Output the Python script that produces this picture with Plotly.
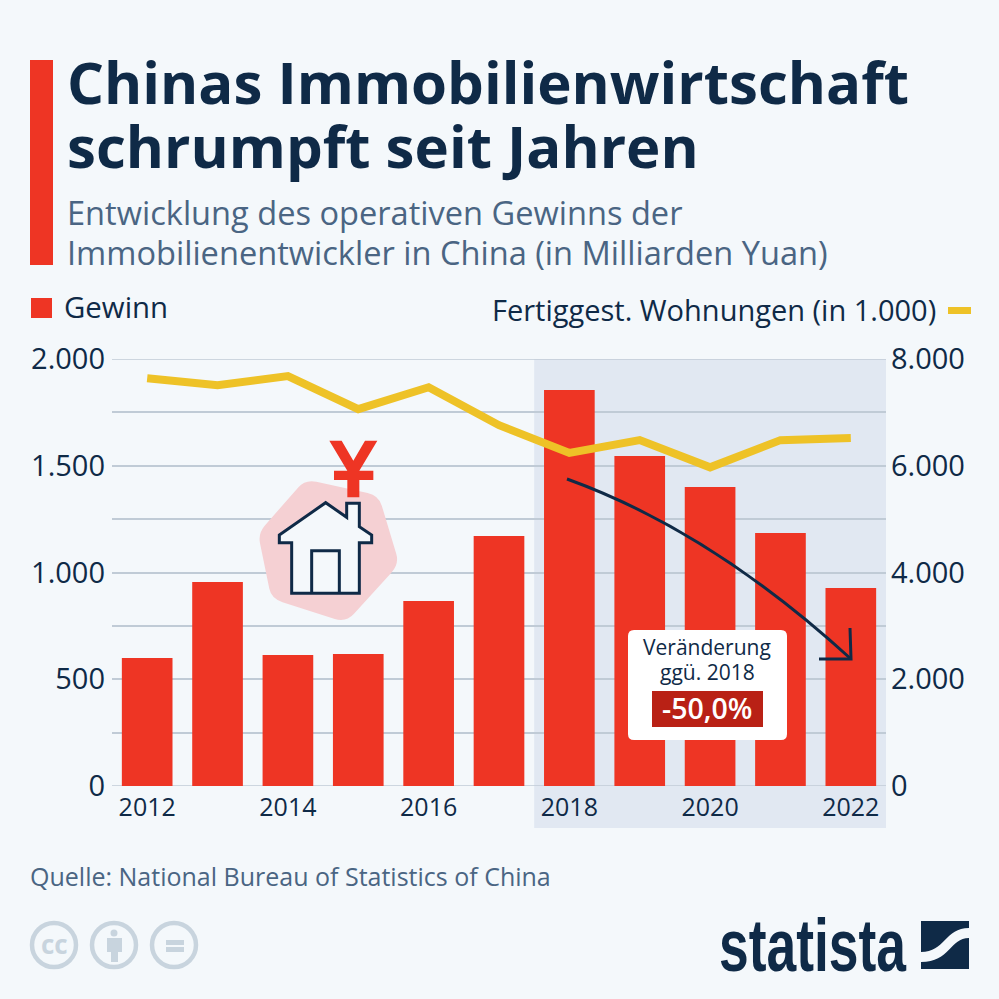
import plotly.graph_objects as go

years = [2012, 2013, 2014, 2015, 2016, 2017, 2018, 2019, 2020, 2021, 2022]
gewinn = [600, 955, 613, 618, 866, 1171, 1855, 1546, 1400, 1185, 927]
wohnungen = [7640, 7510, 7680, 7060, 7470, 6760, 6240, 6480, 5970, 6480, 6520]
left_ticks = [0, 250, 500, 750, 1000, 1250, 1500, 1750, 2000]
left_labels = ["0", "", "500", "", "1.000", "", "1.500", "", "2.000"]
right_ticks = [0, 2000, 4000, 6000, 8000]
right_labels = ["0", "2.000", "4.000", "6.000", "8.000"]
x_ticks = [2012, 2014, 2016, 2018, 2020, 2022]

BG = "#f4f8fb"
NAVY = "#0f2a47"
SLATE = "#4a6583"
RED = "#ee3524"
YELLOW = "#eec227"
GRID = "#c0cbd6"
ICON = "#c8d4de"
FONT = "Open Sans"

# plot area in page pixels
L, R, T, B = 112, 886, 359, 786


def px(x):
    return (x - L) / (R - L)


def py(y):
    return (B - y) / (B - T)


def pt(x, y):
    return f"{px(x):.5f},{py(y):.5f}"


def path(points, close=True):
    d = "M " + " L ".join(pt(x, y) for x, y in points)
    return d + (" Z" if close else "")


def shape_path(d, fill=None, line=None, width=0, layer="above"):
    return dict(type="path", path=d, xref="paper", yref="paper", layer=layer,
                fillcolor=fill or "rgba(0,0,0,0)",
                line=dict(color=line or "rgba(0,0,0,0)", width=width))


def zoomed(points):
    return [(230 + x / 3, 420 + y / 3) for x, y in points]


def rounded_rect(x0, y0, x1, y1, r):
    return (f"M {pt(x0+r, y0)} L {pt(x1-r, y0)} Q {pt(x1, y0)} {pt(x1, y0+r)} "
            f"L {pt(x1, y1-r)} Q {pt(x1, y1)} {pt(x1-r, y1)} "
            f"L {pt(x0+r, y1)} Q {pt(x0, y1)} {pt(x0, y1-r)} "
            f"L {pt(x0, y0+r)} Q {pt(x0, y0)} {pt(x0+r, y0)} Z")


def text(x, y, s, size, color=NAVY, anchor="left", bold=False, family=FONT, weight=None):
    font = dict(size=size, color=color, family=family)
    if weight:
        font["weight"] = weight
    return dict(x=px(x), y=py(y), xref="paper", yref="paper", text=f"<b>{s}</b>" if bold else s,
                showarrow=False, xanchor=anchor, yanchor="middle", font=font)


fig = go.Figure()
fig.add_trace(go.Bar(x=years, y=gewinn, marker_color=RED, marker_line_width=0, width=0.72,
                     yaxis="y", showlegend=False))
fig.add_trace(go.Scatter(x=years, y=wohnungen, mode="lines", yaxis="y2", showlegend=False,
                         line=dict(color=YELLOW, width=8)))

shapes = [
    # shaded period from 2018 on
    dict(type="rect", xref="x", yref="paper", x0=2017.5, x1=2022.5, y0=py(828), y1=1,
         fillcolor="#e1e8f2", line_width=0, layer="below"),
    # title accent
    shape_path(path([(30, 60), (53, 60), (53, 265), (30, 265)]), fill=RED),
    # legend keys
    shape_path(path([(31, 298), (52, 298), (52, 318), (31, 318)]), fill=RED),
    shape_path(path([(948, 307), (971, 307), (971, 314), (948, 314)]), fill=YELLOW),
]

# plotly drops the grid at the ends of the range
for v in [left_ticks[0], left_ticks[-1]]:
    shapes.append(dict(type="line", xref="paper", yref="y", x0=0, x1=1, y0=v, y1=v,
                       line=dict(color=GRID, width=1.5), layer="below"))

# house icon
blob = zoomed([(84, 340), (226, 178), (446, 226), (508, 432), (348, 608), (124, 536)])
d = ""
n = len(blob)
for i in range(n):
    a, b, c = blob[i], blob[(i + 1) % n], blob[(i + 2) % n]
    m1 = (a[0] * 0.15 + b[0] * 0.85, a[1] * 0.15 + b[1] * 0.85)
    m2 = (b[0] * 0.85 + c[0] * 0.15, b[1] * 0.85 + c[1] * 0.15)
    d += ("M " if i == 0 else "L ") + pt(*m1) + f" Q {pt(*b)} {pt(*m2)} "
shapes.append(shape_path(d + "Z", fill="#f5d0d3"))
house = zoomed([(148, 345), (287, 248), (350, 292), (350, 250), (388, 250), (388, 320), (425, 345),
                (425, 368), (388, 368), (388, 520), (185, 520), (185, 368), (148, 368)])
shapes.append(shape_path(path(house), fill=BG, line=NAVY, width=3))
door = zoomed([(245, 520), (245, 392), (328, 392), (328, 520)])
shapes.append(shape_path(path(door, close=False), line=NAVY, width=3))
yen = zoomed([(298, 62), (335, 62), (370, 122), (405, 62), (442, 62), (388, 152), (430, 152), (430, 180),
              (388, 180), (388, 232), (352, 232), (352, 180), (312, 180), (312, 152), (352, 152)])
shapes.append(shape_path(path(yen), fill=RED))

# change callout
shapes.append(shape_path(rounded_rect(628, 630, 787, 740, 6), fill="white"))
shapes.append(shape_path(path([(652, 691), (763, 691), (763, 727), (652, 727)]), fill="#b92115"))
shapes.append(shape_path(f"M {pt(567, 479)} Q {pt(711, 531)} {pt(851, 659)}", line=NAVY, width=3))
shapes.append(shape_path(path([(850, 628), (851, 659), (819, 659)], close=False), line=NAVY, width=3))

# licence icons
for cx in [54, 114, 174]:
    shapes.append(dict(type="circle", xref="paper", yref="paper", x0=px(cx - 22), x1=px(cx + 22),
                       y0=py(967), y1=py(923), line=dict(color=ICON, width=4.5),
                       fillcolor="rgba(0,0,0,0)"))
shapes.append(dict(type="circle", xref="paper", yref="paper", x0=px(110.5), x1=px(117.5),
                   y0=py(936.5), y1=py(929.5), fillcolor=ICON, line_width=0))
shapes.append(shape_path(path([(107, 938), (122, 938), (122, 952), (118, 952), (118, 962), (111, 962),
                               (111, 952), (107, 952)]), fill=ICON))
shapes.append(shape_path(path([(166, 940), (184, 940), (184, 945), (166, 945)]), fill=ICON))
shapes.append(shape_path(path([(166, 947), (184, 947), (184, 952), (166, 952)]), fill=ICON))

# statista mark
shapes.append(shape_path(path([(921, 921), (969, 921), (969, 969), (921, 969)]), fill=NAVY))
swoosh = (f"M {pt(969, 928)} C {pt(945, 928)} {pt(945, 952)} {pt(921, 952)} L {pt(921, 962)} "
          f"C {pt(950, 962)} {pt(950, 938)} {pt(969, 938)} Z")
shapes.append(shape_path(swoosh, fill=BG))

annotations = [
    text(65, 81, "Chinas Immobilienwirtschaft", 58.2, bold=True),
    text(65, 146, "schrumpft seit Jahren", 58.2, bold=True),
    text(65, 212.5, "Entwicklung des operativen Gewinns der", 32.6, color=SLATE),
    text(65, 253, "Immobilienentwickler in China (in Milliarden Yuan)", 32.6, color=SLATE),
    text(62, 307, "Gewinn", 29.4),
    text(938, 309, "Fertiggest. Wohnungen (in 1.000)", 29, anchor="right"),
    text(707, 647, "Veränderung", 21, anchor="center", weight=500),
    text(707, 672, "ggü. 2018", 21, anchor="center", weight=500),
    text(707, 708, "-50,0%", 28.5, color="white", anchor="center", weight=600),
    text(28, 876, "Quelle: National Bureau of Statistics of China", 25, color=SLATE),
    text(54, 944, "cc", 26, color=ICON, anchor="center", bold=True),
    text(813, 945, "statista", 74, anchor="center", bold=True, family="Liberation Sans"),
]

fig.update_layout(
    width=999, height=999, autosize=False,
    margin=dict(l=L, r=999 - R, t=T, b=999 - B, pad=0),
    paper_bgcolor=BG, plot_bgcolor="rgba(0,0,0,0)",
    font=dict(family=FONT, color=NAVY),
    shapes=shapes, annotations=annotations, showlegend=False,
    xaxis=dict(range=[2011.5, 2022.5], tickvals=x_ticks, ticks="", showgrid=False, zeroline=False,
               showline=False, tickfont=dict(size=25, color=NAVY), ticklabelstandoff=4),
    yaxis=dict(range=[0, 2000], tickvals=left_ticks, ticktext=left_labels, ticks="", showgrid=True,
               gridcolor=GRID, gridwidth=1.5, zeroline=False, showline=False,
               tickfont=dict(size=29, color=NAVY), ticklabelstandoff=6),
    yaxis2=dict(range=[0, 8000], tickvals=right_ticks, ticktext=right_labels, overlaying="y", side="right",
                ticks="", showgrid=False, zeroline=False, showline=False,
                tickfont=dict(size=29, color=NAVY), ticklabelstandoff=4),
)

# no narrow font here, so squeeze the logo word to its width
squeeze = """
document.body.style.margin = '0';
document.querySelectorAll('.annotation-text').forEach(function (t) {
    if (t.textContent === 'statista') {
        t.setAttribute('textLength', 187);
        t.setAttribute('lengthAdjust', 'spacingAndGlyphs');
    }
});
"""
fig.write_html("out.html", config={"displayModeBar": False}, post_script=squeeze)
